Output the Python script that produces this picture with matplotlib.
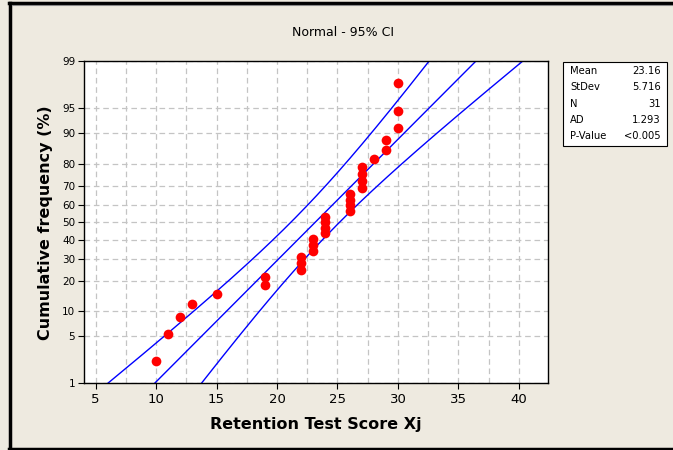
import numpy as np
import matplotlib.pyplot as plt
from matplotlib.lines import Line2D
from matplotlib.patches import Rectangle
from statistics import NormalDist

# Retention test scores (n = 31), sorted
scores = [10, 11, 12, 13, 15, 19, 19, 22, 22, 22, 23, 23, 23,
          24, 24, 24, 24, 26, 26, 26, 26, 27, 27, 27, 27, 28,
          29, 29, 30, 30, 30]
pct_ticks = [1, 5, 10, 20, 30, 40, 50, 60, 70, 80, 90, 95, 99]
x_ticks = [5, 10, 15, 20, 25, 30, 35, 40]

nd = NormalDist()
x = np.array(scores, dtype=float)
n = len(x)
mean = x.mean()
sd = x.std(ddof=1)

# median ranks -> normal quantiles
ranks = np.arange(1, n + 1)
p = (ranks - 0.3) / (n + 0.4)
z = np.array([nd.inv_cdf(v) for v in p])

# fitted line and 95% confidence band
zz = np.linspace(nd.inv_cdf(0.01), nd.inv_cdf(0.99), 200)
fit = mean + sd * zz
half = 1.96 * sd / np.sqrt(n) * np.sqrt(1 + zz ** 2 / 2)

bg = '#EEEAE0'
fig = plt.figure(figsize=(6.73, 4.5), dpi=100, facecolor=bg)
ax = fig.add_axes([0.1241, 0.1478, 0.6900, 0.7167])
ax.set_facecolor('white')

ax.plot(fit, zz, color='#0000FF', lw=1)
ax.plot(fit - half, zz, color='#0000FF', lw=1)
ax.plot(fit + half, zz, color='#0000FF', lw=1)
ax.plot(x, z, 'o', color='#FF0000', ms=7, mec='none', zorder=3)

ax.set_xlim(4.0, 42.4)
ax.set_ylim(nd.inv_cdf(0.01), nd.inv_cdf(0.99))
ax.set_xticks(x_ticks)
ax.set_xticks(np.arange(7.5, 42.5, 5), minor=True)
ax.set_yticks([nd.inv_cdf(v / 100) for v in pct_ticks])
ax.set_yticklabels([str(v) for v in pct_ticks])

ax.grid(True, which='both', color='#C4C4C4', ls=(0, (4.5, 3)), lw=0.9)
ax.tick_params(axis='both', which='major', direction='out', length=4,
               labelsize=8.5, colors='black')
ax.tick_params(axis='x', which='minor', length=0)
ax.tick_params(axis='y', labelsize=7.5, pad=2)
ax.tick_params(axis='x', labelsize=9.5, pad=3)
for s in ax.spines.values():
    s.set_color('black')
    s.set_linewidth(1)

ax.set_xlabel('Retention Test Score Xj', fontsize=11.5, fontweight='bold',
              labelpad=8)
ax.set_ylabel('Cumulative frequency (%)', fontsize=11.5, fontweight='bold',
              labelpad=6.5)
fig.text(0.51, 0.928, 'Normal - 95% CI', ha='center', va='center', fontsize=9)

# stats box
fig.add_artist(Rectangle((0.8366, 0.676), 0.1545, 0.186, transform=fig.transFigure,
                         facecolor='white', edgecolor='black', lw=0.8))
rows = [('Mean', f'{mean:.2f}'), ('StDev', f'{sd:.3f}'), ('N', f'{n}'),
        ('AD', '1.293'), ('P-Value', '<0.005')]
for i, (k, v) in enumerate(rows):
    yy = 1 - (71 + 16.3 * i) / 450
    fig.text(0.847, yy, k, ha='left', va='center', fontsize=7.2)
    fig.text(0.982, yy, v, ha='right', va='center', fontsize=7.2)

# outer frame
fig.add_artist(Line2D([10 / 673, 10 / 673], [2 / 450, 447 / 450],
                      transform=fig.transFigure, color='black', lw=2.5))
fig.add_artist(Line2D([9 / 673, 1], [447 / 450, 447 / 450],
                      transform=fig.transFigure, color='black', lw=2.5))
fig.add_artist(Line2D([12 / 673, 1], [445 / 450, 445 / 450],
                      transform=fig.transFigure, color='#888888', lw=0.8))
fig.add_artist(Line2D([9 / 673, 1], [1.5 / 450, 1.5 / 450],
                      transform=fig.transFigure, color='black', lw=2.5))

fig.savefig('out.png', dpi=100, facecolor=bg)
